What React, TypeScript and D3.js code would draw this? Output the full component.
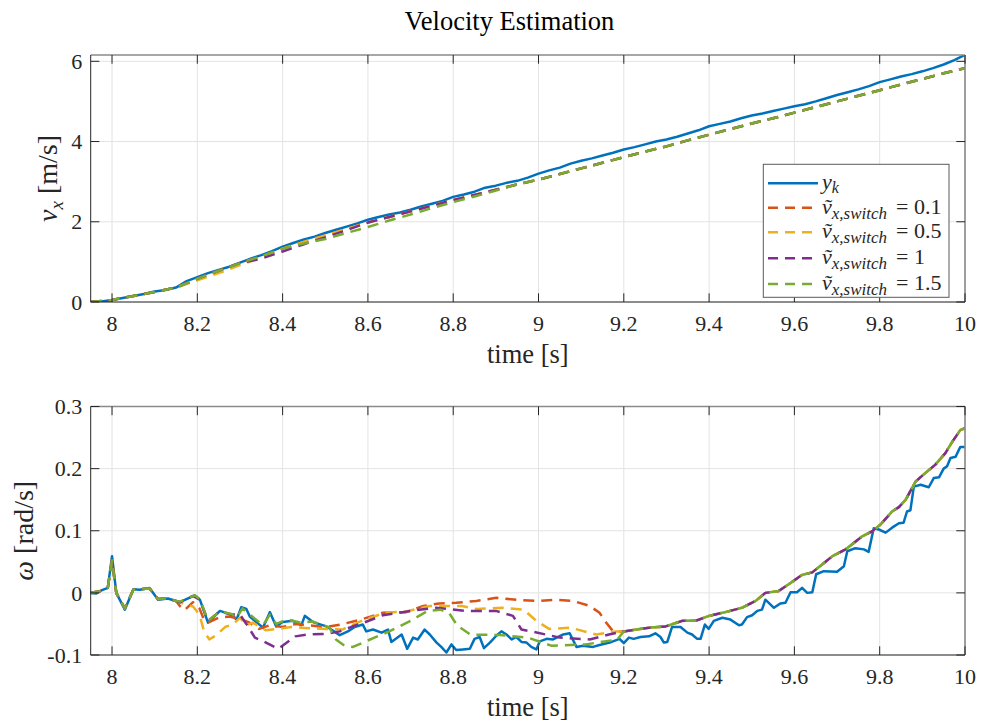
import React from 'react';
import * as d3 from 'd3';

const W = 981;
const H = 722;
const FONT = '"Liberation Serif", "Times New Roman", serif';
const COLORS = ['#0072BD', '#D95319', '#EDB120', '#7E2F8E', '#77AC30'];

const xTicks = [8, 8.2, 8.4, 8.6, 8.8, 9, 9.2, 9.4, 9.6, 9.8, 10];
const xTickLabels = ['8', '8.2', '8.4', '8.6', '8.8', '9', '9.2', '9.4', '9.6', '9.8', '10'];
const vTicks = [0, 2, 4, 6];
const vTickLabels = ['0', '2', '4', '6'];
const wTicks = [-0.1, 0, 0.1, 0.2, 0.3];
const wTickLabels = ['-0.1', '0', '0.1', '0.2', '0.3'];
const switchLabels = ['0.1', '0.5', '1', '1.5'];

// ---------- top panel: v_x ----------
const vxTime = [7.95, 7.975, 8, 8.025, 8.05, 8.075, 8.1, 8.125, 8.15, 8.175, 8.2, 8.225, 8.25, 8.275, 8.3, 8.325, 8.35, 8.375, 8.4, 8.425, 8.45, 8.475, 8.5, 8.525, 8.55, 8.575, 8.6, 8.625, 8.65, 8.675, 8.7, 8.725, 8.75, 8.775, 8.8, 8.825, 8.85, 8.875, 8.9, 8.925, 8.95, 8.975, 9, 9.025, 9.05, 9.075, 9.1, 9.125, 9.15, 9.175, 9.2, 9.225, 9.25, 9.275, 9.3, 9.325, 9.35, 9.375, 9.4, 9.425, 9.45, 9.475, 9.5, 9.525, 9.55, 9.575, 9.6, 9.625, 9.65, 9.675, 9.7, 9.725, 9.75, 9.775, 9.8, 9.825, 9.85, 9.875, 9.9, 9.925, 9.95, 9.975, 10];
const vxMeasured = [0.00, 0.01, 0.05, 0.10, 0.15, 0.20, 0.26, 0.30, 0.36, 0.52, 0.62, 0.72, 0.80, 0.88, 0.98, 1.08, 1.17, 1.27, 1.38, 1.47, 1.56, 1.63, 1.72, 1.80, 1.88, 1.96, 2.05, 2.12, 2.18, 2.23, 2.30, 2.38, 2.45, 2.52, 2.62, 2.68, 2.75, 2.85, 2.90, 2.97, 3.02, 3.10, 3.20, 3.28, 3.35, 3.45, 3.52, 3.58, 3.65, 3.72, 3.80, 3.86, 3.93, 4.00, 4.05, 4.12, 4.20, 4.28, 4.38, 4.44, 4.50, 4.58, 4.65, 4.70, 4.76, 4.82, 4.88, 4.93, 5.00, 5.08, 5.16, 5.23, 5.30, 5.38, 5.48, 5.55, 5.62, 5.68, 5.75, 5.83, 5.92, 6.03, 6.16];

const vxTimeEst = [7.95, 8, 8.05, 8.1, 8.15, 8.2, 8.25, 8.3, 8.35, 8.4, 8.45, 8.5, 8.55, 8.6, 8.65, 8.7, 8.75, 8.8, 8.85, 8.9, 8.95, 9, 9.05, 9.1, 9.15, 9.2, 9.25, 9.3, 9.35, 9.4, 9.45, 9.5, 9.55, 9.6, 9.65, 9.7, 9.75, 9.8, 9.85, 9.9, 9.95, 10];
const vxSwitch01 = [0, 0.05, 0.15, 0.25, 0.36, 0.58, 0.78, 0.97, 1.14, 1.33, 1.50, 1.66, 1.82, 1.98, 2.12, 2.26, 2.40, 2.54, 2.67, 2.80, 2.93, 3.05, 3.19, 3.33, 3.47, 3.61, 3.75, 3.88, 4.03, 4.17, 4.31, 4.45, 4.58, 4.72, 4.86, 5.00, 5.14, 5.28, 5.42, 5.56, 5.70, 5.83];
const vxSwitch05 = [0, 0.05, 0.15, 0.25, 0.36, 0.54, 0.72, 0.92, 1.10, 1.33, 1.50, 1.66, 1.82, 1.98, 2.12, 2.26, 2.40, 2.54, 2.67, 2.80, 2.93, 3.05, 3.19, 3.33, 3.47, 3.61, 3.75, 3.88, 4.03, 4.17, 4.31, 4.45, 4.58, 4.72, 4.86, 5.00, 5.14, 5.28, 5.42, 5.56, 5.70, 5.83];
const vxSwitch1 = [0, 0.05, 0.15, 0.25, 0.36, 0.58, 0.78, 0.97, 1.08, 1.26, 1.44, 1.61, 1.79, 1.98, 2.12, 2.26, 2.40, 2.54, 2.67, 2.80, 2.93, 3.05, 3.19, 3.33, 3.47, 3.61, 3.75, 3.88, 4.03, 4.17, 4.31, 4.45, 4.58, 4.72, 4.86, 5.00, 5.14, 5.28, 5.42, 5.56, 5.70, 5.83];
const vxSwitch15 = [0, 0.05, 0.15, 0.25, 0.36, 0.58, 0.78, 0.97, 1.14, 1.33, 1.46, 1.57, 1.72, 1.87, 2.03, 2.18, 2.34, 2.49, 2.63, 2.78, 2.93, 3.05, 3.19, 3.33, 3.47, 3.61, 3.75, 3.88, 4.03, 4.17, 4.31, 4.45, 4.58, 4.72, 4.86, 5.00, 5.14, 5.28, 5.42, 5.56, 5.70, 5.83];

// ---------- bottom panel: omega ----------
const wMeasured: [number, number][] = [
  [7.948, 0.000], [7.963, -0.001], [7.975, 0.004], [7.99, 0.008], [8.0, 0.059], [8.01, 0.000], [8.03, -0.027],
  [8.05, 0.006], [8.065, 0.005], [8.088, 0.008], [8.108, -0.011], [8.131, -0.009], [8.159, -0.015], [8.194, -0.004],
  [8.206, -0.011], [8.225, -0.048], [8.253, -0.029], [8.28, -0.035], [8.292, -0.043], [8.303, -0.023], [8.315, -0.026],
  [8.323, -0.038], [8.354, -0.056], [8.37, -0.031], [8.385, -0.054], [8.4, -0.047], [8.424, -0.045], [8.444, -0.052],
  [8.452, -0.037], [8.471, -0.047], [8.503, -0.054], [8.534, -0.068], [8.553, -0.062], [8.569, -0.055], [8.588, -0.051],
  [8.596, -0.062], [8.612, -0.059], [8.632, -0.064], [8.647, -0.059], [8.655, -0.079], [8.679, -0.067], [8.692, -0.090],
  [8.706, -0.072], [8.717, -0.075], [8.733, -0.059], [8.745, -0.067], [8.761, -0.080], [8.772, -0.087], [8.784, -0.096],
  [8.796, -0.083], [8.807, -0.092], [8.823, -0.091], [8.839, -0.090], [8.85, -0.074], [8.862, -0.071], [8.872, -0.089],
  [8.886, -0.080], [8.901, -0.069], [8.913, -0.062], [8.925, -0.067], [8.937, -0.075], [8.948, -0.071], [8.96, -0.079],
  [8.972, -0.080], [8.983, -0.087], [8.995, -0.091], [9.003, -0.078], [9.019, -0.074], [9.034, -0.075], [9.046, -0.071],
  [9.058, -0.067], [9.073, -0.065], [9.089, -0.087], [9.104, -0.085], [9.128, -0.087], [9.143, -0.084], [9.167, -0.080],
  [9.19, -0.074], [9.2, -0.081], [9.212, -0.072], [9.223, -0.074], [9.239, -0.071], [9.259, -0.070], [9.274, -0.065],
  [9.286, -0.071], [9.294, -0.080], [9.302, -0.079], [9.313, -0.055], [9.333, -0.055], [9.349, -0.064], [9.36, -0.067],
  [9.372, -0.074], [9.38, -0.074], [9.39, -0.051], [9.399, -0.058], [9.411, -0.045], [9.431, -0.040], [9.45, -0.043],
  [9.47, -0.052], [9.477, -0.051], [9.489, -0.039], [9.501, -0.036], [9.513, -0.029], [9.524, -0.027], [9.532, -0.011],
  [9.552, -0.024], [9.567, -0.017], [9.579, -0.016], [9.591, 0.001], [9.606, 0.001], [9.618, 0.008], [9.63, 0.000],
  [9.642, 0.001], [9.651, 0.030], [9.669, 0.035], [9.7, 0.034], [9.716, 0.043], [9.724, 0.067], [9.743, 0.072],
  [9.763, 0.070], [9.774, 0.066], [9.786, 0.104], [9.798, 0.102], [9.814, 0.097], [9.829, 0.105], [9.845, 0.112],
  [9.856, 0.113], [9.864, 0.131], [9.872, 0.133], [9.88, 0.171], [9.896, 0.174], [9.915, 0.170], [9.927, 0.185],
  [9.939, 0.186], [9.95, 0.200], [9.958, 0.204], [9.966, 0.217], [9.978, 0.219], [9.989, 0.235], [10.0, 0.235],
];

// shared start / end of the four estimates
const wEstHead: [number, number][] = [
  [7.948, 0.000], [7.975, 0.003], [7.99, 0.008], [8.0, 0.052], [8.01, 0.000], [8.03, -0.025], [8.05, 0.005],
  [8.065, 0.006], [8.088, 0.007], [8.108, -0.010], [8.131, -0.009], [8.15, -0.013],
];
const wEstTail: [number, number][] = [
  [9.2, -0.062], [9.259, -0.056], [9.298, -0.054], [9.337, -0.045], [9.368, -0.045], [9.4, -0.037], [9.438, -0.031],
  [9.477, -0.024], [9.509, -0.013], [9.532, 0.000], [9.563, 0.003], [9.591, 0.016], [9.618, 0.029], [9.642, 0.033],
  [9.689, 0.059], [9.72, 0.070], [9.759, 0.091], [9.782, 0.099], [9.802, 0.110], [9.829, 0.131], [9.845, 0.138],
  [9.861, 0.150], [9.884, 0.179], [9.907, 0.193], [9.93, 0.206], [9.954, 0.225], [9.97, 0.243], [9.989, 0.262], [10.0, 0.265],
];
const wSwitch01Mid: [number, number][] = [
  [8.16, -0.022], [8.17, -0.028], [8.19, -0.015], [8.205, -0.025], [8.215, -0.042], [8.225, -0.048], [8.25, -0.040],
  [8.275, -0.038], [8.3, -0.042], [8.32, -0.047], [8.345, -0.058], [8.37, -0.052], [8.4, -0.055], [8.43, -0.050],
  [8.46, -0.052], [8.5, -0.055], [8.537, -0.051], [8.588, -0.042], [8.635, -0.032], [8.69, -0.031], [8.73, -0.021],
  [8.767, -0.017], [8.807, -0.016], [8.854, -0.013], [8.901, -0.008], [8.948, -0.011], [8.995, -0.013], [9.042, -0.011],
  [9.081, -0.013], [9.12, -0.021], [9.143, -0.032], [9.159, -0.048], [9.175, -0.062], [9.19, -0.062],
];
const wSwitch05Mid: [number, number][] = [
  [8.17, -0.018], [8.19, -0.022], [8.205, -0.035], [8.215, -0.060], [8.228, -0.075], [8.245, -0.068], [8.265, -0.055],
  [8.285, -0.050], [8.3, -0.040], [8.315, -0.052], [8.33, -0.048], [8.36, -0.060], [8.39, -0.058], [8.42, -0.055],
  [8.46, -0.057], [8.5, -0.058], [8.54, -0.059], [8.585, -0.045], [8.64, -0.032], [8.69, -0.030], [8.745, -0.021],
  [8.82, -0.021], [8.855, -0.026], [8.915, -0.024], [8.965, -0.027], [8.995, -0.045], [9.025, -0.058], [9.075, -0.056],
  [9.135, -0.067], [9.18, -0.062],
];
const wSwitch1Mid: [number, number][] = [
  [8.16, -0.015], [8.19, -0.005], [8.206, -0.011], [8.225, -0.045], [8.253, -0.030], [8.28, -0.035], [8.3, -0.035],
  [8.315, -0.050], [8.335, -0.072], [8.355, -0.078], [8.375, -0.085], [8.39, -0.090], [8.41, -0.080], [8.43, -0.070],
  [8.46, -0.067], [8.5, -0.066], [8.534, -0.062], [8.56, -0.055], [8.59, -0.048], [8.635, -0.036], [8.72, -0.027],
  [8.76, -0.024], [8.83, -0.029], [8.9, -0.029], [8.94, -0.037], [8.96, -0.059], [8.99, -0.063], [9.05, -0.072],
  [9.12, -0.075], [9.165, -0.067],
];
const wSwitch15Mid: [number, number][] = [
  [8.159, -0.014], [8.194, -0.004], [8.206, -0.010], [8.225, -0.045], [8.253, -0.030], [8.28, -0.034], [8.292, -0.040],
  [8.306, -0.025], [8.323, -0.035], [8.354, -0.052], [8.37, -0.035], [8.385, -0.050], [8.41, -0.043], [8.444, -0.048],
  [8.47, -0.046], [8.51, -0.056], [8.525, -0.075], [8.545, -0.085], [8.565, -0.087], [8.595, -0.078], [8.65, -0.062],
  [8.7, -0.045], [8.74, -0.029], [8.77, -0.027], [8.79, -0.032], [8.81, -0.053], [8.84, -0.067], [8.91, -0.068],
  [8.975, -0.072], [9.03, -0.085], [9.11, -0.083], [9.185, -0.075],
];

// ---------- layout ----------
const PL = 90.7;
const PR = 965;
const TOP1 = 55;
const BOT1 = 302;
const TOP2 = 406.5;
const BOT2 = 655;

const x = d3.scaleLinear().domain([7.95, 10]).range([PL, PR]);
const y1 = d3.scaleLinear().domain([0, 6.157]).range([BOT1, TOP1]);
const y2 = d3.scaleLinear().domain([-0.1, 0.3]).range([BOT2, TOP2]);

const DASH = '11,7';
const LW = 2.5;

type P = [number, number];

function Panel(props: {
  y: d3.ScaleLinear<number, number>;
  top: number;
  bottom: number;
  yTicks: number[];
  yTickLabels: string[];
  id: string;
  children: React.ReactNode;
}) {
  const { y, top, bottom, yTicks, yTickLabels, id, children } = props;
  const TL = 8.7;
  return (
    <g>
      <defs>
        <clipPath id={id}>
          <rect x={PL} y={top} width={PR - PL} height={bottom - top} />
        </clipPath>
      </defs>
      <rect x={PL} y={top} width={PR - PL} height={bottom - top} fill="#fff" />
      {xTicks.map((t) => (
        <line key={'gx' + t} x1={x(t)} x2={x(t)} y1={top} y2={bottom} stroke="#e3e3e3" strokeWidth={1} />
      ))}
      {yTicks.map((t) => (
        <line key={'gy' + t} x1={PL} x2={PR} y1={y(t)} y2={y(t)} stroke="#e3e3e3" strokeWidth={1} />
      ))}
      <g clipPath={`url(#${id})`}>{children}</g>
      {/* frame */}
      <line x1={PL} x2={PR} y1={top} y2={top} stroke="#8a8a8a" strokeWidth={1.6} />
      <line x1={PR} x2={PR} y1={top} y2={bottom} stroke="#8a8a8a" strokeWidth={1.6} />
      <line x1={PL} x2={PR} y1={bottom} y2={bottom} stroke="#262626" strokeWidth={1} />
      <line x1={PL} x2={PL} y1={top} y2={bottom} stroke="#262626" strokeWidth={1} />
      {/* ticks */}
      {xTicks.map((t) => (
        <g key={'tx' + t}>
          <line x1={x(t)} x2={x(t)} y1={bottom} y2={bottom - TL} stroke="#262626" strokeWidth={1} />
          <line x1={x(t)} x2={x(t)} y1={top} y2={top + TL} stroke="#262626" strokeWidth={1} />
        </g>
      ))}
      {yTicks.map((t) => (
        <g key={'ty' + t}>
          <line x1={PL} x2={PL + TL} y1={y(t)} y2={y(t)} stroke="#262626" strokeWidth={1} />
          <line x1={PR} x2={PR - TL} y1={y(t)} y2={y(t)} stroke="#262626" strokeWidth={1} />
        </g>
      ))}
      {/* tick labels */}
      {xTicks.map((t, i) => (
        <text key={'lx' + t} x={x(t)} y={bottom + 29} textAnchor="middle" fontSize={22} fill="#262626">
          {xTickLabels[i]}
        </text>
      ))}
      {yTicks.map((t, i) => (
        <text key={'ly' + t} x={PL - 8.5} y={y(t)} dy="0.35em" textAnchor="end" fontSize={22} fill="#262626">
          {yTickLabels[i]}
        </text>
      ))}
      <text x={(PL + PR) / 2} y={bottom + 61} textAnchor="middle" fontSize={26.5} fill="#262626">
        time [s]
      </text>
    </g>
  );
}

export default function App() {
  const lineTop = d3
    .line<number>()
    .x((_, i) => x(vxTime[i]))
    .y((d) => y1(d));
  const lineTopEst = d3
    .line<number>()
    .x((_, i) => x(vxTimeEst[i]))
    .y((d) => y1(d));
  const lineW = d3
    .line<P>()
    .x((d) => x(d[0]))
    .y((d) => y2(d[1]));

  const topEst = [vxSwitch01, vxSwitch05, vxSwitch1, vxSwitch15];
  const wEst = [wSwitch01Mid, wSwitch05Mid, wSwitch1Mid, wSwitch15Mid].map((m) => [...wEstHead, ...m, ...wEstTail]);

  const legendX = 763.3;
  const legendY = 164.3;
  const legendW = 185.7;
  const legendH = 133;
  const rowY = [183.3, 207.7, 232.3, 258.3, 284];

  return (
    <svg
      width={W}
      height={H}
      style={{ position: 'absolute', left: 0, top: 0, background: '#fff', fontFamily: FONT }}
      xmlns="http://www.w3.org/2000/svg"
    >
      <rect x={0} y={0} width={W} height={H} fill="#fff" />
      <text x={509.5} y={30} textAnchor="middle" fontSize={26.5} fill="#000">
        Velocity Estimation
      </text>

      <Panel y={y1} top={TOP1} bottom={BOT1} yTicks={vTicks} yTickLabels={vTickLabels} id="clipTop">
        <path d={lineTop(vxMeasured) || ''} fill="none" stroke={COLORS[0]} strokeWidth={LW} strokeLinejoin="round" />
        {topEst.map((s, i) => (
          <path
            key={'te' + i}
            d={lineTopEst(s) || ''}
            fill="none"
            stroke={COLORS[i + 1]}
            strokeWidth={LW}
            strokeDasharray={DASH}
            strokeLinejoin="round"
          />
        ))}
      </Panel>

      <Panel y={y2} top={TOP2} bottom={BOT2} yTicks={wTicks} yTickLabels={wTickLabels} id="clipBot">
        <path d={lineW(wMeasured) || ''} fill="none" stroke={COLORS[0]} strokeWidth={LW} strokeLinejoin="round" />
        {wEst.map((s, i) => (
          <path
            key={'we' + i}
            d={lineW(s as P[]) || ''}
            fill="none"
            stroke={COLORS[i + 1]}
            strokeWidth={LW}
            strokeDasharray={DASH}
            strokeLinejoin="round"
          />
        ))}
      </Panel>

      {/* y labels */}
      <text transform={`translate(57,${(TOP1 + BOT1) / 2}) rotate(-90)`} textAnchor="middle" fontSize={28} fill="#262626">
        <tspan fontStyle="italic">v</tspan>
        <tspan fontStyle="italic" fontSize={19} dy={6}>x</tspan>
        <tspan dy={-6}> [m/s]</tspan>
      </text>
      <text transform={`translate(33,${(TOP2 + BOT2) / 2}) rotate(-90)`} textAnchor="middle" fontSize={28} fill="#262626">
        <tspan fontStyle="italic">ω</tspan>
        <tspan> [rad/s]</tspan>
      </text>

      {/* legend */}
      <rect x={legendX} y={legendY} width={legendW} height={legendH} fill="#fff" stroke="#5a5a5a" strokeWidth={1} />
      <line x1={768} x2={818} y1={rowY[0]} y2={rowY[0]} stroke={COLORS[0]} strokeWidth={LW} />
      <text x={822} y={rowY[0] + 6} fontSize={22} fill="#262626">
        <tspan fontStyle="italic">y</tspan>
        <tspan fontStyle="italic" fontSize={16} dy={4}>k</tspan>
      </text>
      {switchLabels.map((lab, i) => (
        <g key={'lg' + i}>
          <line
            x1={768}
            x2={818}
            y1={rowY[i + 1]}
            y2={rowY[i + 1]}
            stroke={COLORS[i + 1]}
            strokeWidth={LW}
            strokeDasharray="10,7"
          />
          <text x={822} y={rowY[i + 1] + 6} fontSize={22} fill="#262626">
            <tspan fontStyle="italic">{'v\u0303'}</tspan>
            <tspan fontStyle="italic" fontSize={17} dy={5}>x,switch</tspan>
            <tspan dy={-5} dx={9}>= {lab}</tspan>
          </text>
        </g>
      ))}
    </svg>
  );
}
